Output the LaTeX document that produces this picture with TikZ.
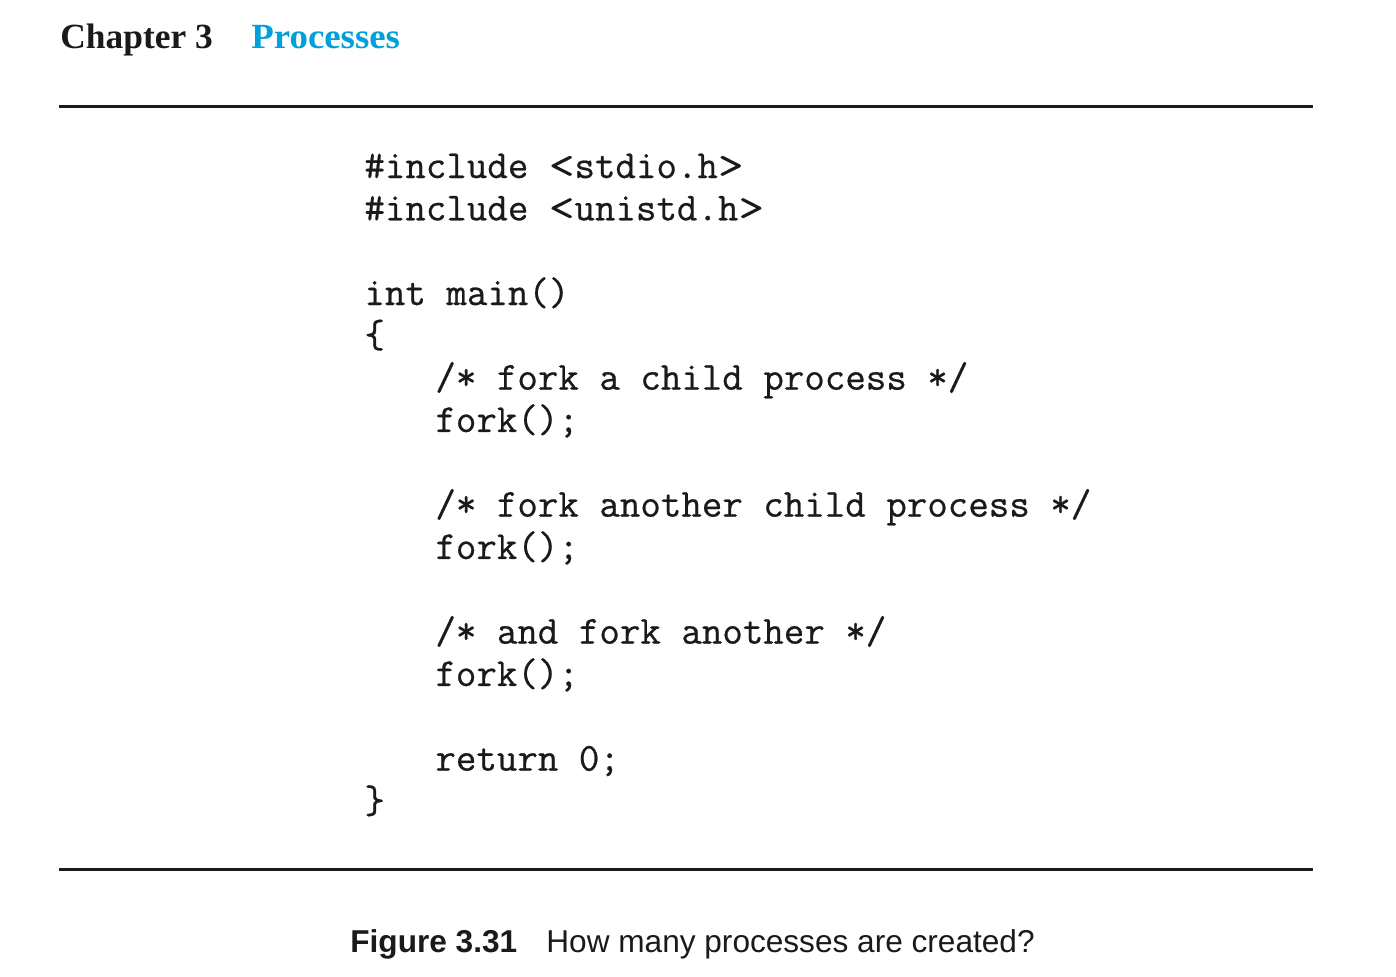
\documentclass[tikz,border=0pt]{standalone}
\usepackage{fontspec}
\setmainfont{Liberation Serif}
\setsansfont{Liberation Sans}
\newfontface\codefont{Latin Modern Mono}[FakeBold=0.6]
\newcommand\codelt{\scalebox{1.25}[1]{<}}
\newcommand\codegt{\scalebox{1.25}[1]{>}}
\definecolor{procblue}{RGB}{0,160,218}
\definecolor{ink}{RGB}{26,26,26}
\begin{document}
\begin{tikzpicture}[x=0.5pt,y=-0.5pt,
  codeline/.style={anchor=base west,inner sep=0pt,text=ink,font=\codefont\fontsize{19.9}{22}\selectfont},
  headtext/.style={anchor=base west,inner sep=0pt,font=\rmfamily\bfseries\fontsize{17.7}{20}\selectfont},
  captext/.style={anchor=base west,inner sep=0pt,text=ink,font=\sffamily\fontsize{15.8}{18}\selectfont},
  rulestyle/.style={line width=1.5pt,draw=ink}]
\useasboundingbox (0,0) rectangle (1396,976);
\fill[white] (0,0) rectangle (1396,976);
% header
\node[headtext,text=ink] (chap) at (60,48) {Chapter 3};
\node[headtext,text=procblue,xscale=1.04] (proc) at (251,48) {Processes};
% rules
\coordinate (t1) at (59,106);
\coordinate (t2) at (1313,106);
\coordinate (b1) at (59,869);
\coordinate (b2) at (1313,869);
\draw[rulestyle] (t1) -- (t2);
\draw[rulestyle] (b1) -- (b2);
% code
\def\lsk{42.33}
\node[codeline] (l1) at (364,178) {\#include \codelt stdio.h\codegt};
\node[codeline] (l2) at (364,178+1*\lsk) {\#include \codelt unistd.h\codegt};
\node[codeline] (l4) at (364,178+3*\lsk) {int main()};
\node[codeline] (l5) at (364,178+4*\lsk) {\{};
\node[codeline] (l6) at (435,178+5*\lsk) {/* fork a child process */};
\node[codeline] (l7) at (435,178+6*\lsk) {fork();};
\node[codeline] (l9) at (435,178+8*\lsk) {/* fork another child process */};
\node[codeline] (l10) at (435,178+9*\lsk) {fork();};
\node[codeline] (l12) at (435,178+11*\lsk) {/* and fork another */};
\node[codeline] (l13) at (435,178+12*\lsk) {fork();};
\node[codeline] (l15) at (435,178+14*\lsk) {return 0;};
\node[codeline] (l16) at (364,178+15*\lsk) {\}};
% caption
\node[captext,font=\sffamily\bfseries\fontsize{15.8}{18}\selectfont] (fig) at (350,952) {Figure 3.31};
\node[captext] (cap) at (546,952) {How many processes are created?};
\end{tikzpicture}
\end{document}
